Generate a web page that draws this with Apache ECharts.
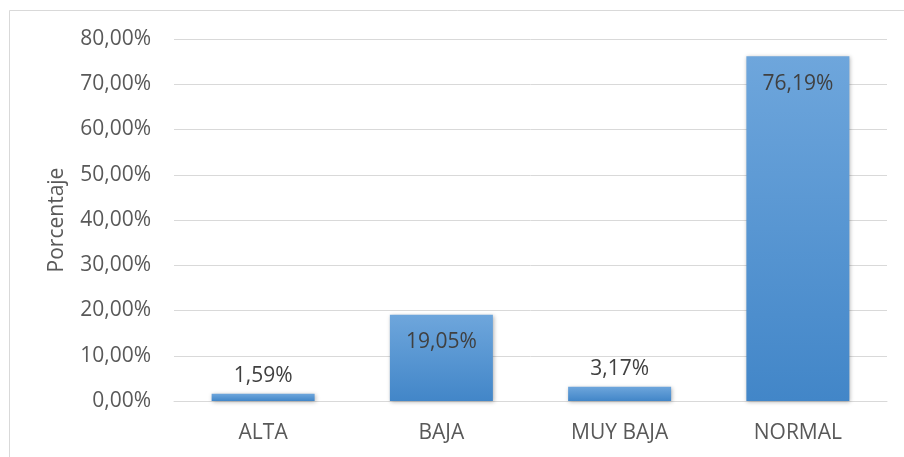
<!DOCTYPE html>
<html><head><meta charset="utf-8">
<script src="https://cdn.jsdelivr.net/npm/echarts@6/dist/echarts.min.js"></script>
<style>html,body{margin:0;padding:0;background:#fff}#c{width:904px;height:457px}</style>
</head><body><div id="c"></div>
<script>
const categories = ['ALTA', 'BAJA', 'MUY BAJA', 'NORMAL'];
const values = [1.59, 19.05, 3.17, 76.19];
const yTicks = {min: 0, max: 80, interval: 10};
const yTitle = 'Porcentaje';

const fmt = v => v.toFixed(2).replace('.', ',') + '%';
const chart = echarts.init(document.getElementById('c'));
chart.setOption({
  animation: false,
  backgroundColor: '#fff',
  graphic: [{type: 'rect', shape: {x: 9.5, y: 10.5, width: 1000, height: 1000},
    style: {fill: 'none', stroke: '#d9d9d9', lineWidth: 1}, silent: true}],
  grid: {left: 174, right: 17, top: 39, bottom: 56},
  xAxis: {
    type: 'category', data: categories,
    axisLine: {show: true, lineStyle: {color: '#d9d9d9', width: 1}},
    axisTick: {show: false},
    axisLabel: {color: '#595959', fontSize: 21, fontFamily: 'Open Sans', margin: 22}
  },
  yAxis: {
    type: 'value', min: yTicks.min, max: yTicks.max, interval: yTicks.interval,
    name: yTitle, nameLocation: 'middle', nameGap: 106, nameRotate: 90,
    nameTextStyle: {color: '#595959', fontSize: 21, fontFamily: 'Open Sans'},
    axisLine: {show: false}, axisTick: {show: false},
    splitLine: {lineStyle: {color: '#d9d9d9', width: 1}},
    axisLabel: {color: '#595959', fontSize: 21, fontFamily: 'Open Sans', margin: 23, formatter: fmt}
  },
  series: [{
    type: 'bar', barWidth: 103,
    data: values.map(v => ({value: v, label: {position: v > 10 ? 'insideTop' : 'top', distance: v > 10 ? 17 : 7}})),
    itemStyle: {
      color: new echarts.graphic.LinearGradient(0, 0, 0, 1, [
        {offset: 0, color: '#6ea6dc'}, {offset: 1, color: '#4286c8'}]),
      shadowBlur: 4, shadowColor: 'rgba(0,0,0,0.3)', shadowOffsetX: 1, shadowOffsetY: 1
    },
    label: {show: true, color: '#404040', fontSize: 21, fontFamily: 'Open Sans', formatter: p => fmt(p.value)}
  }]
});
</script></body></html>
